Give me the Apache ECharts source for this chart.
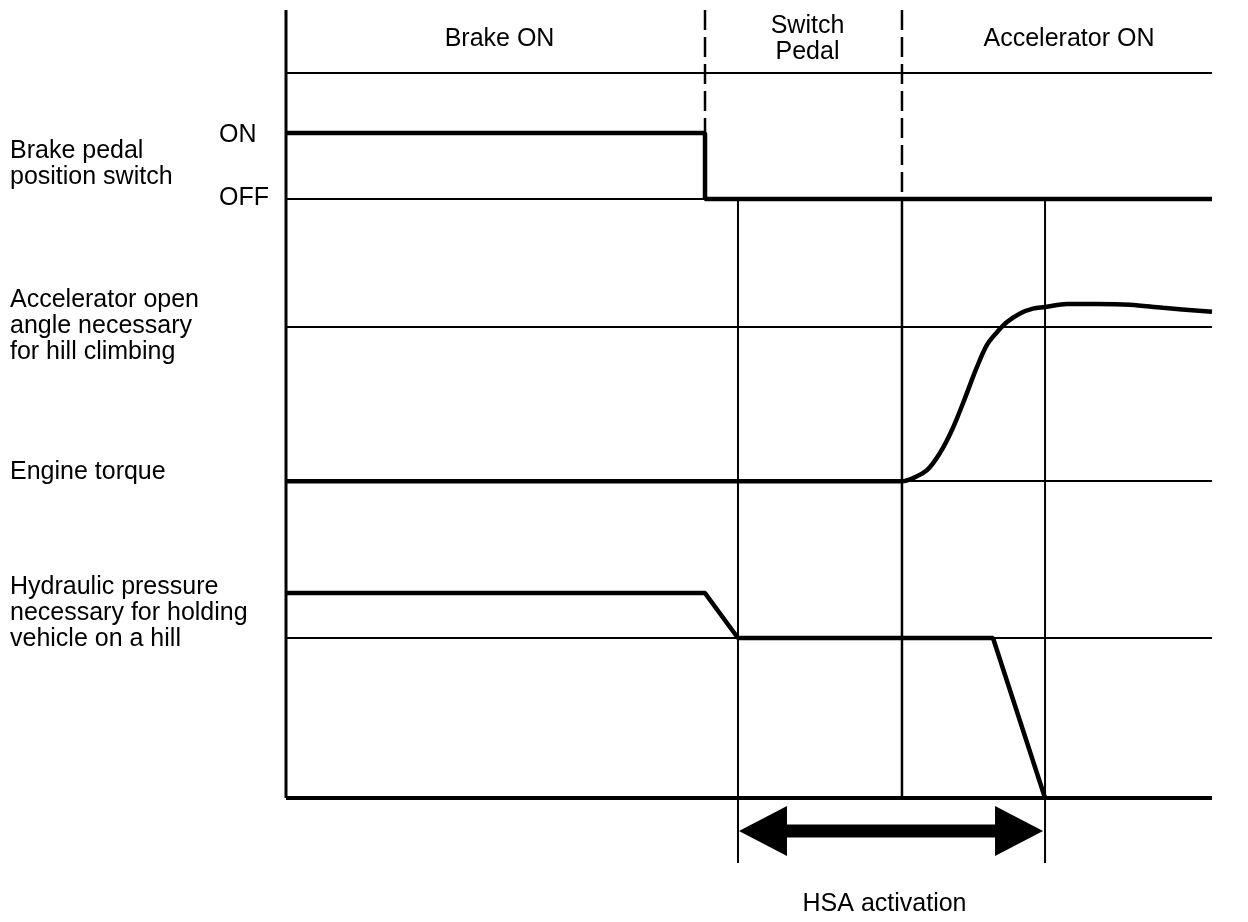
<!DOCTYPE html>
<html>
<head>
<meta charset="utf-8">
<title>HSA timing chart</title>
<script src="https://cdn.jsdelivr.net/npm/echarts@6/dist/echarts.min.js"></script>
<style>
  html, body { margin: 0; padding: 0; background: #fff; }
  #chart { width: 1248px; height: 922px; }
</style>
</head>
<body>
<div id="chart"></div>
<script>
// time axis runs 0..100, level axis 0..100 (0 = bottom line of the diagram)
const phases = ['Brake ON', 'Switch\nPedal', 'Accelerator ON']
const phaseEdges = [0, 45.25, 66.52, 100]

const brakeT = [0, 45.25, 45.25, 100]
const brakeV = [84.4, 84.4, 76.0, 76.0]

const torqueT = [0, 66.52, 67.71, 69.22, 70.63, 71.92, 73.11, 74.62, 75.70, 76.78, 77.86, 79.27, 80.67, 81.97, 84.34, 87.58, 91.14, 94.71, 100]
const torqueV = [40.2, 40.2, 40.6, 41.6, 43.8, 46.7, 50.1, 54.7, 57.5, 59.1, 60.4, 61.5, 62.1, 62.3, 62.7, 62.7, 62.6, 62.2, 61.7]

const hydT = [0, 45.25, 48.81, 76.35, 81.97]
const hydV = [26.0, 26.0, 20.3, 20.3, 0]

// thin horizontal reference levels: header rule, OFF, accel angle, torque base, hydraulic base
const refLevels = [92.0, 76.0, 59.8, 40.2, 20.3]

const hsaWindow = [48.81, 81.97]
const arrowLevel = -4.2
const Y_MIN = -8.25
const Y_MAX = 100

const FONT = "'Liberation Sans', Arial, Helvetica, sans-serif"
const FS = 25

function pairs(xs, ys) {
  return xs.map((x, i) => [x, ys[i]])
}

function lineSeries(data, width, type = 'solid') {
  return {
    type: 'line',
    data,
    showSymbol: false,
    symbol: 'none',
    silent: true,
    animation: false,
    lineStyle: { color: '#000', width, type },
  }
}

const chart = echarts.init(document.getElementById('chart'), null, { renderer: 'canvas' })

const leftLabels = [
  { text: 'Brake pedal\nposition switch', y: 164 },
  { text: 'Accelerator open\nangle necessary\nfor hill climbing', y: 326 },
  { text: 'Engine torque', y: 472 },
  { text: 'Hydraulic pressure\nnecessary for holding\nvehicle on a hill', y: 613 },
]

const option = {
  backgroundColor: '#fff',
  animation: false,
  grid: { left: 286, right: 36, top: 10, bottom: 59 },
  xAxis: { type: 'value', min: 0, max: 100, show: false },
  yAxis: { type: 'value', min: Y_MIN, max: Y_MAX, show: false },
  graphic: [
    ...leftLabels.map(l => ({
      type: 'text',
      left: 10,
      top: l.y - (l.text.split('\n').length * 26) / 2,
      style: { text: l.text, font: `${FS}px ${FONT}`, fill: '#000', lineHeight: 26 },
    })),
    { type: 'text', left: 219, top: 135 - 13, style: { text: 'ON', font: `${FS}px ${FONT}`, fill: '#000', lineHeight: 26 } },
    { type: 'text', left: 219, top: 198 - 13, style: { text: 'OFF', font: `${FS}px ${FONT}`, fill: '#000', lineHeight: 26 } },
  ],
  series: [
    // frame: left axis and bottom rule
    lineSeries([[0, 0], [0, Y_MAX]], 3),
    lineSeries([[0, 0], [100, 0]], 4),
    // reference levels
    {
      type: 'line',
      data: [],
      silent: true,
      markLine: {
        silent: true,
        symbol: 'none',
        animation: false,
        label: { show: false },
        lineStyle: { color: '#000', width: 2, type: 'solid' },
        data: refLevels.map(v => ({ yAxis: v })),
      },
    },
    // phase boundaries (dashed in header area)
    lineSeries([[phaseEdges[1], Y_MAX], [phaseEdges[1], 76.0]], 2.5, [20, 7]),
    lineSeries([[phaseEdges[2], Y_MAX], [phaseEdges[2], 76.0]], 2.5, [20, 7]),
    lineSeries([[phaseEdges[2], 76.0], [phaseEdges[2], 0]], 2.5),
    // HSA window markers
    lineSeries([[hsaWindow[0], 76.0], [hsaWindow[0], Y_MIN]], 2),
    lineSeries([[hsaWindow[1], 76.0], [hsaWindow[1], Y_MIN]], 2),
    // signals
    lineSeries(pairs(brakeT, brakeV), 4.5),
    Object.assign(lineSeries(pairs(torqueT, torqueV), 4.5), { smooth: 0.35 }),
    lineSeries(pairs(hydT, hydV), 4.5),
    // phase titles
    {
      type: 'custom',
      silent: true,
      animation: false,
      encode: { x: [0, 1] },
      data: phases.map((_, i) => [phaseEdges[i], phaseEdges[i + 1]]),
      renderItem(params, api) {
        const p = api.coord([(api.value(0) + api.value(1)) / 2, 96.3])
        const last = params.dataIndex === phases.length - 1
        return {
          type: 'text',
          x: p[0] + (last ? 12 : 4),
          y: p[1],
          style: {
            text: phases[params.dataIndex],
            font: `${FS}px ${FONT}`,
            fill: '#000',
            align: 'center',
            verticalAlign: 'middle',
            lineHeight: 26,
          },
        }
      },
    },
    // HSA activation double arrow
    {
      type: 'custom',
      silent: true,
      animation: false,
      encode: { x: [0, 1], y: 2 },
      data: [[hsaWindow[0], hsaWindow[1], arrowLevel]],
      renderItem(params, api) {
        const a = api.coord([api.value(0), api.value(2)])
        const b = api.coord([api.value(1), api.value(2)])
        const y = a[1]
        const head = 48, half = 25, shaft = 6.5
        const x0 = a[0] + 1, x1 = b[0] - 2
        return {
          type: 'group',
          children: [
            {
              type: 'polygon',
              shape: {
                points: [
                  [x0, y], [x0 + head, y - half], [x0 + head, y - shaft],
                  [x1 - head, y - shaft], [x1 - head, y - half], [x1, y],
                  [x1 - head, y + half], [x1 - head, y + shaft],
                  [x0 + head, y + shaft], [x0 + head, y + half],
                ],
              },
              style: { fill: '#000' },
            },
            {
              type: 'text',
              x: (a[0] + b[0]) / 2 - 7,
              y: y + 73,
              style: {
                text: 'HSA activation',
                font: `${FS}px ${FONT}`,
                fill: '#000',
                align: 'center',
                verticalAlign: 'middle',
              },
            },
          ],
        }
      },
    },
  ],
}

chart.setOption(option)
</script>
</body>
</html>
